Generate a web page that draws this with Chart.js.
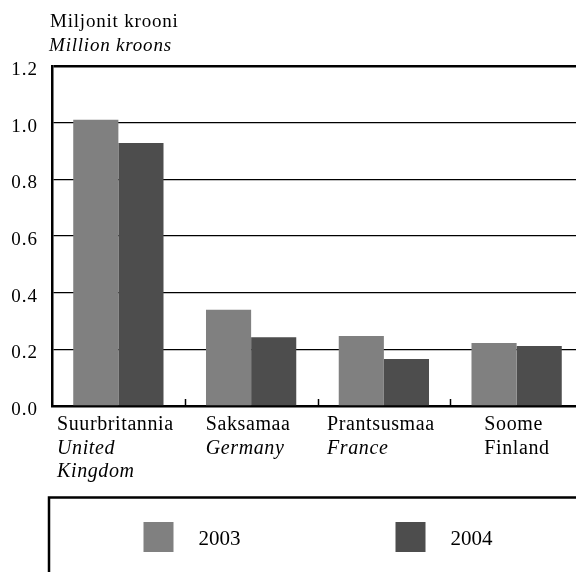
<!DOCTYPE html>
<html>
<head>
<meta charset="utf-8">
<script src="https://cdn.jsdelivr.net/npm/chart.js@4.4.0/dist/chart.umd.min.js"></script>
<style>
    html, body { margin: 0; padding: 0; background: #fff; overflow: hidden; }
    #wrap { width: 600px; height: 572px; position: relative; }
</style>
</head>
<body>
<div id="wrap"><canvas id="chart"></canvas></div>
<script>
const categories = ['Suurbritannia', 'Saksamaa', 'Prantsusmaa', 'Soome'];
const categoriesEn = [['United', 'Kingdom'], ['Germany'], ['France'], ['Finland']];
const seriesLabels = ['2003', '2004'];
const values2003 = [1.01, 0.34, 0.247, 0.222];
const values2004 = [0.928, 0.243, 0.166, 0.212];
const yTicks = [0, 0.2, 0.4, 0.6, 0.8, 1.0, 1.2];

const FONT = '"Liberation Serif", "Times New Roman", Times, serif';

// the original text is a bit loosely spaced
const spacing = {
    id: 'spacing',
    beforeLayout(chart) { chart.ctx.letterSpacing = '1px'; },
    beforeDraw(chart) { chart.ctx.letterSpacing = '1px'; }
};

// axis title, category labels, inner ticks and legend box are drawn by hand
const extras = {
    id: 'extras',
    afterDraw(chart) {
        const ctx = chart.ctx;
        const area = chart.chartArea;
        const x = chart.scales.x;
        ctx.save();
        ctx.fillStyle = '#000';
        ctx.textBaseline = 'alphabetic';
        ctx.textAlign = 'left';

        ctx.letterSpacing = '0.8px';
        ctx.font = '19px ' + FONT;
        ctx.fillText('Miljonit krooni', 50, 27);
        ctx.font = 'italic 19px ' + FONT;
        ctx.fillText('Million kroons', 49, 51);

        // small ticks between categories, pointing up
        ctx.strokeStyle = '#000';
        ctx.lineWidth = 1.5;
        for (let i = 1; i < categories.length; i++) {
            const px = Math.round((x.getPixelForValue(i - 1) + x.getPixelForValue(i)) / 2) + 0.5;
            ctx.beginPath();
            ctx.moveTo(px, area.bottom);
            ctx.lineTo(px, area.bottom - 7);
            ctx.stroke();
        }

        // category labels: first line centred, the rest left aligned to it
        ctx.letterSpacing = '0.6px';
        categories.forEach((name, i) => {
            const cx = x.getPixelForValue(i);
            ctx.font = '20px ' + FONT;
            const sx = cx - ctx.measureText(name).width / 2 - 3;
            ctx.fillText(name, sx, area.bottom + 24);
            ctx.font = (i === 3 ? '' : 'italic ') + '20px ' + FONT;
            categoriesEn[i].forEach((line, j) => {
                ctx.fillText(line, sx, area.bottom + 47.5 + j * 23.5);
            });
        });

        // legend
        ctx.letterSpacing = '0px';
        const mid = (area.left + area.right) / 2;
        const boxLeft = area.left - 3;
        ctx.lineWidth = 2.5;
        ctx.strokeRect(boxLeft, 497.5, (mid - boxLeft) * 2, 120);
        const step = 252;
        const startX = mid - 174;
        ctx.font = '21px ' + FONT;
        chart.data.datasets.forEach((ds, i) => {
            const sx = startX + i * step;
            ctx.fillStyle = ds.backgroundColor;
            ctx.fillRect(sx, 522, 30, 30);
            ctx.fillStyle = '#000';
            ctx.fillText(ds.label, sx + 55, 545);
        });
        ctx.restore();
    }
};

new Chart(document.getElementById('chart'), {
    type: 'bar',
    data: {
        labels: categories,
        datasets: [
            { label: seriesLabels[0], data: values2003, backgroundColor: '#808080' },
            { label: seriesLabels[1], data: values2004, backgroundColor: '#4d4d4d' }
        ]
    },
    options: {
        responsive: true,
        maintainAspectRatio: false,
        animation: false,
        datasets: { bar: { categoryPercentage: 0.68, barPercentage: 1.0 } },
        layout: { padding: { top: 66, right: 17, left: 0, bottom: 0 } },
        plugins: { legend: { display: false }, tooltip: { enabled: false } },
        scales: {
            x: {
                grid: { display: false },
                border: { color: '#000', width: 2.5 },
                ticks: { display: false },
                afterFit: s => { s.height = 166; }
            },
            y: {
                min: 0,
                max: 1.2,
                afterBuildTicks: s => { s.ticks = yTicks.map(v => ({ value: v })); },
                grid: {
                    color: '#000',
                    drawTicks: false,
                    lineWidth: c => (c.tick && Math.abs(c.tick.value - 1.2) < 1e-9) ? 2.5 : 1.3
                },
                border: { color: '#000', width: 2.5 },
                ticks: {
                    color: '#000',
                    padding: 14,
                    labelOffset: 4,
                    font: { family: FONT, size: 19 },
                    callback: v => Number(v).toFixed(1)
                },
                afterFit: s => { s.width = 52; }
            }
        }
    },
    plugins: [spacing, extras]
});
</script>
</body>
</html>
